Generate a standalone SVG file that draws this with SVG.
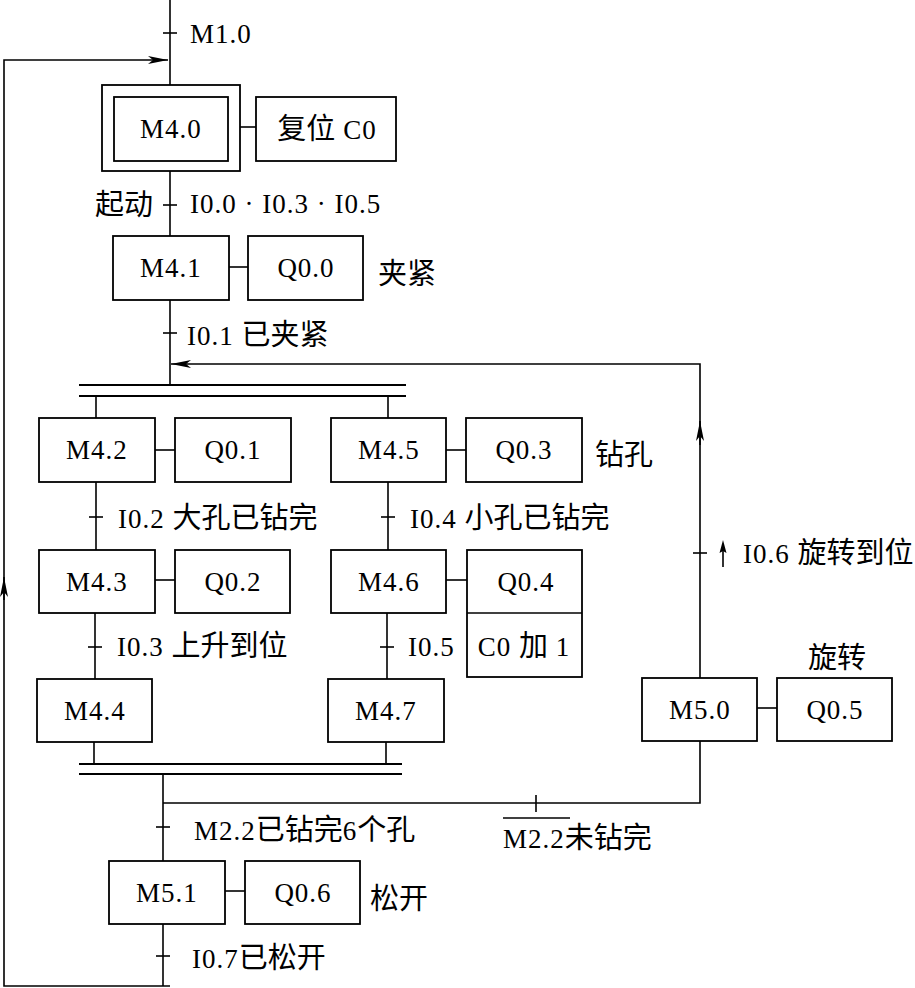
<svg xmlns="http://www.w3.org/2000/svg" width="915" height="988" viewBox="0 0 915 988">
<defs>
<style>
.ln{stroke:#000;stroke-width:1.6;fill:none}
.bx{stroke:#000;stroke-width:1.8;fill:#fff}
.bar{stroke:#000;stroke-width:2.2}
.t{font-family:"Liberation Serif","Noto Sans CJK SC",serif;font-size:27px;letter-spacing:1px;fill:#000}
.m{text-anchor:middle}
.c{font-size:29px;letter-spacing:0}
</style>
<marker id="ah" viewBox="0 0 20 8" refX="20" refY="4" markerWidth="20" markerHeight="8" markerUnits="userSpaceOnUse" orient="auto">
<path d="M0,0 L20,4 L0,8 L5,4 Z" fill="#000"/>
</marker>
</defs>
<rect width="915" height="988" fill="#fff"/>
<g id="connectors">
<line class="ln" x1="170" y1="0" x2="170" y2="85"/>
<line class="ln" x1="163" y1="33" x2="177" y2="33"/>
<polyline class="ln" points="170,986 4,986 4,60 168,60" marker-end="url(#ah)"/>
<line class="ln" x1="4" y1="600" x2="4" y2="577" marker-end="url(#ah)"/>
<line class="ln" x1="240" y1="127" x2="256" y2="127"/>
<line class="ln" x1="170" y1="171" x2="170" y2="236"/>
<line class="ln" x1="163" y1="205" x2="177" y2="205"/>
<line class="ln" x1="229" y1="267" x2="248" y2="267"/>
<line class="ln" x1="170" y1="300" x2="170" y2="385"/>
<line class="ln" x1="163" y1="333" x2="177" y2="333"/>
<polyline class="ln" points="700,678 700,364 171,364" marker-end="url(#ah)"/>
<line class="ln" x1="700" y1="445" x2="700" y2="421" marker-end="url(#ah)"/>
<line class="bar" x1="79" y1="385" x2="406" y2="385"/>
<line class="bar" x1="79" y1="396" x2="406" y2="396"/>
<line class="ln" x1="96" y1="396" x2="96" y2="418"/>
<line class="ln" x1="388" y1="396" x2="388" y2="418"/>
<line class="ln" x1="155" y1="450" x2="175" y2="450"/>
<line class="ln" x1="446" y1="450" x2="466" y2="450"/>
<line class="ln" x1="96" y1="482" x2="96" y2="550"/>
<line class="ln" x1="89" y1="517" x2="103" y2="517"/>
<line class="ln" x1="388" y1="482" x2="388" y2="550"/>
<line class="ln" x1="381" y1="517" x2="395" y2="517"/>
<line class="ln" x1="155" y1="580" x2="175" y2="580"/>
<line class="ln" x1="446" y1="580" x2="467" y2="580"/>
<line class="ln" x1="95" y1="613" x2="95" y2="679"/>
<line class="ln" x1="88" y1="647" x2="102" y2="647"/>
<line class="ln" x1="387" y1="613" x2="387" y2="679"/>
<line class="ln" x1="380" y1="647" x2="394" y2="647"/>
<line class="ln" x1="94" y1="742" x2="94" y2="764"/>
<line class="ln" x1="386" y1="742" x2="386" y2="764"/>
<line class="bar" x1="79" y1="764" x2="402" y2="764"/>
<line class="bar" x1="79" y1="774" x2="402" y2="774"/>
<line class="ln" x1="757" y1="708" x2="777" y2="708"/>
<line class="ln" x1="693" y1="553" x2="707" y2="553"/>
<line class="ln" x1="723" y1="567" x2="723" y2="548"/>
<path d="M723,540 L726.5,553 L723,551 L719.5,553 Z" fill="#000"/>
<polyline class="ln" points="700,741 700,803 163,803"/>
<line class="ln" x1="536" y1="795" x2="536" y2="812"/>
<line class="ln" x1="163" y1="774" x2="163" y2="861"/>
<line class="ln" x1="156" y1="827" x2="170" y2="827"/>
<line class="ln" x1="225" y1="891" x2="245" y2="891"/>
<line class="ln" x1="163" y1="924" x2="163" y2="986"/>
<line class="ln" x1="156" y1="956" x2="170" y2="956"/>
<line class="ln" x1="503" y1="818" x2="570" y2="818"/>
</g>
<g id="M4.0">
<rect class="bx" x="102" y="85" width="138" height="86"/>
<rect class="bx" x="114" y="97" width="114" height="64"/>
<text class="t m" x="171" y="138">M4.0</text>
</g>
<g id="reset-C0">
<rect class="bx" x="256" y="97" width="140" height="64"/>
<text class="t m" x="327" y="139"><tspan class="c">复位</tspan> C0</text>
</g>
<g id="M4.1">
<rect class="bx" x="113" y="236" width="116" height="64"/>
<text class="t m" x="171" y="277">M4.1</text>
</g>
<g id="Q0.0">
<rect class="bx" x="248" y="236" width="115" height="64"/>
<text class="t m" x="306" y="277">Q0.0</text>
</g>
<g id="M4.2">
<rect class="bx" x="39" y="418" width="116" height="64"/>
<text class="t m" x="97" y="459">M4.2</text>
</g>
<g id="Q0.1">
<rect class="bx" x="175" y="418" width="116" height="64"/>
<text class="t m" x="233" y="459">Q0.1</text>
</g>
<g id="M4.5">
<rect class="bx" x="331" y="418" width="115" height="64"/>
<text class="t m" x="389" y="459">M4.5</text>
</g>
<g id="Q0.3">
<rect class="bx" x="466" y="418" width="116" height="64"/>
<text class="t m" x="524" y="459">Q0.3</text>
</g>
<g id="M4.3">
<rect class="bx" x="39" y="550" width="116" height="63"/>
<text class="t m" x="97" y="591">M4.3</text>
</g>
<g id="Q0.2">
<rect class="bx" x="175" y="550" width="115" height="63"/>
<text class="t m" x="233" y="591">Q0.2</text>
</g>
<g id="M4.6">
<rect class="bx" x="331" y="550" width="115" height="63"/>
<text class="t m" x="389" y="591">M4.6</text>
</g>
<g id="Q0.4-C0">
<rect class="bx" x="467" y="550" width="115" height="127"/>
<line class="ln" x1="467" y1="613" x2="582" y2="613"/>
<text class="t m" x="526" y="591">Q0.4</text>
<text class="t m" x="524" y="656">C0 <tspan class="c">加</tspan> 1</text>
</g>
<g id="M4.4">
<rect class="bx" x="37" y="679" width="115" height="63"/>
<text class="t m" x="95" y="720">M4.4</text>
</g>
<g id="M4.7">
<rect class="bx" x="328" y="679" width="116" height="63"/>
<text class="t m" x="386" y="720">M4.7</text>
</g>
<g id="M5.0">
<rect class="bx" x="642" y="678" width="115" height="63"/>
<text class="t m" x="700" y="719">M5.0</text>
</g>
<g id="Q0.5">
<rect class="bx" x="777" y="678" width="115" height="63"/>
<text class="t m" x="835" y="719">Q0.5</text>
</g>
<g id="M5.1">
<rect class="bx" x="109" y="861" width="116" height="63"/>
<text class="t m" x="167" y="902">M5.1</text>
</g>
<g id="Q0.6">
<rect class="bx" x="245" y="861" width="115" height="63"/>
<text class="t m" x="303" y="902">Q0.6</text>
</g>
<g id="labels">
<text class="t" x="190" y="43">M1.0</text>
<text class="t" x="153" y="215" text-anchor="end"><tspan class="c">起动</tspan></text>
<text class="t" x="190" y="213">I0.0 · I0.3 · I0.5</text>
<text class="t" x="378" y="284"><tspan class="c">夹紧</tspan></text>
<text class="t" x="187" y="345">I0.1 <tspan class="c">已夹紧</tspan></text>
<text class="t" x="595" y="465"><tspan class="c">钻孔</tspan></text>
<text class="t" x="118" y="528">I0.2 <tspan class="c">大孔已钻完</tspan></text>
<text class="t" x="410" y="528">I0.4 <tspan class="c">小孔已钻完</tspan></text>
<text class="t" x="117" y="656">I0.3 <tspan class="c">上升到位</tspan></text>
<text class="t" x="408" y="656">I0.5</text>
<text class="t" x="743" y="563">I0.6 <tspan class="c">旋转到位</tspan></text>
<text class="t m" x="837" y="668"><tspan class="c">旋转</tspan></text>
<text class="t" x="194" y="840">M2.2<tspan class="c">已钻完</tspan>6<tspan class="c">个孔</tspan></text>
<text class="t" x="503" y="848">M2.2<tspan class="c">未钻完</tspan></text>
<text class="t" x="370" y="909"><tspan class="c">松开</tspan></text>
<text class="t" x="192" y="968">I0.7<tspan class="c">已松开</tspan></text>
</g>
</svg>
